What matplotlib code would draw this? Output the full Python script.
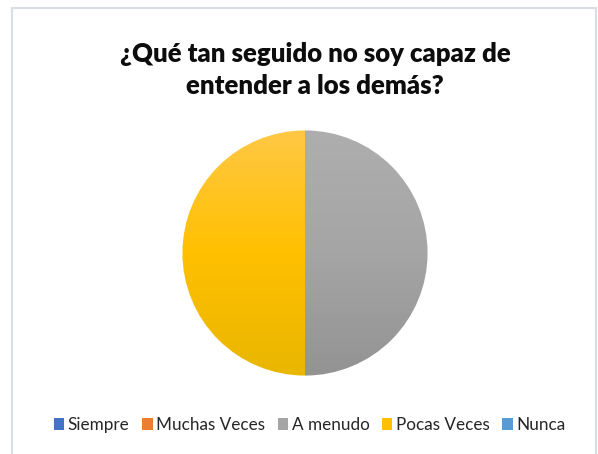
import matplotlib.pyplot as plt
import numpy as np
from matplotlib.colors import LinearSegmentedColormap
from matplotlib.patches import Rectangle

plt.rcParams['font.family'] = ['Lato', 'DejaVu Sans']

# survey answers and their counts
categories = ['Siempre', 'Muchas Veces', 'A menudo', 'Pocas Veces', 'Nunca']
values = [0, 0, 1, 1, 0]
colors = ['#4472C4', '#ED7D31', '#A5A5A5', '#FFC000', '#5B9BD5']
# shades of each slice from top to bottom
tops = ['#5B86D0', '#F2914F', '#AEAEAE', '#FFC845', '#73ABDD']
bottoms = ['#3A64B0', '#D96F26', '#939393', '#E9B600', '#4E8BC4']

fig = plt.figure(figsize=(5.98, 4.54), dpi=100)
fig.patches.append(Rectangle((12 / 598, -0.05), (596 - 12) / 598, 1 - 8 / 454 + 0.05,
                             transform=fig.transFigure, fill=False,
                             edgecolor='#D9DEE4', linewidth=1.5))

fig.text(0.527, 0.845, '¿Qué tan seguido no soy capaz de\nentender a los demás?',
         ha='center', va='center', fontsize=18.5, fontweight='heavy',
         color='#0D0D0D', linespacing=1.4)

ax = fig.add_axes([(305 - 125) / 598, 1 - (253 + 125) / 454, 250 / 598, 250 / 454])
wedges, _ = ax.pie(values, colors=colors, startangle=90, counterclock=False,
                   wedgeprops=dict(edgecolor='white', linewidth=0.8))
ax.set_aspect('equal')

for w, v, t, c, b in zip(wedges, values, tops, colors, bottoms):
    if v == 0:
        continue
    cmap = LinearSegmentedColormap.from_list('g', [b, c, t])
    grad = np.linspace(0, 1, 256).reshape(-1, 1)
    im = ax.imshow(grad, cmap=cmap, extent=[-1, 1, -1, 1], origin='lower',
                   aspect='auto', zorder=w.get_zorder() + 0.1)
    im.set_clip_path(w)
ax.set_xlim(-1.02, 1.02)
ax.set_ylim(-1.02, 1.02)
ax.axis('off')

handles = [Rectangle((0, 0), 1, 1, facecolor=c) for c in colors]
fig.legend(handles, categories, loc='center', bbox_to_anchor=(0.518, 0.064),
           ncol=5, frameon=False, fontsize=12.3, handlelength=0.6,
           handleheight=0.65, handletextpad=0.2, columnspacing=0.75,
           labelcolor='#262626')

fig.savefig('out.png', dpi=100)
